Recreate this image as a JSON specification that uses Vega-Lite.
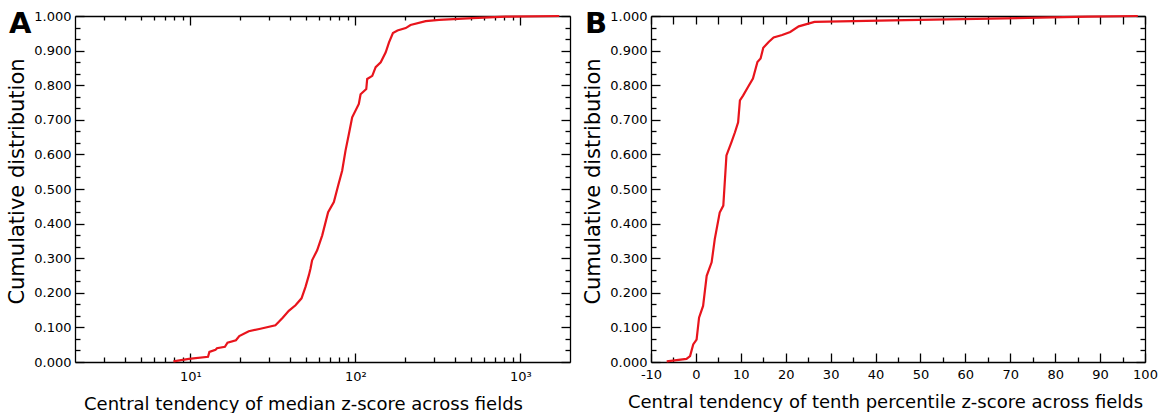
{
  "$schema": "https://vega.github.io/schema/vega-lite/v6.json",
  "padding": {"left": 6, "top": 10, "right": 12, "bottom": 0},
  "spacing": 11,
  "config": {
    "font": "DejaVu Sans",
    "view": {"stroke": null},
    "axis": {
      "labelFont": "DejaVu Sans", "labelFontSize": 13, "labelColor": "#000",
      "titleFont": "DejaVu Sans", "titleFontSize": 18, "titleFontWeight": "normal", "titleColor": "#000",
      "domainColor": "#000", "tickColor": "#000", "grid": false,
      "domainWidth": 1.3, "tickWidth": 1.3, "labelFlush": false, "labelOverlap": false
    },
    "title": {"font": "DejaVu Sans", "fontSize": 29, "fontWeight": "bold", "color": "#000", "anchor": "start", "frame": "group", "offset": 0}
  },
  "datasets": {
    "a": [
      {"x": 7.9, "y": 0.002}, {"x": 9.8, "y": 0.009}, {"x": 12.8, "y": 0.015}, {"x": 13.05, "y": 0.029},
      {"x": 14.2, "y": 0.035}, {"x": 14.5, "y": 0.040}, {"x": 16.2, "y": 0.044}, {"x": 16.8, "y": 0.056},
      {"x": 18.9, "y": 0.063}, {"x": 19.8, "y": 0.075}, {"x": 22.6, "y": 0.089}, {"x": 26.6, "y": 0.096},
      {"x": 32.8, "y": 0.106}, {"x": 34.4, "y": 0.116}, {"x": 36.3, "y": 0.128}, {"x": 39.5, "y": 0.148},
      {"x": 43.4, "y": 0.164}, {"x": 47.2, "y": 0.184}, {"x": 49.9, "y": 0.217}, {"x": 52.3, "y": 0.251},
      {"x": 53.5, "y": 0.27}, {"x": 54.7, "y": 0.294}, {"x": 58.7, "y": 0.323}, {"x": 63, "y": 0.366},
      {"x": 68.4, "y": 0.433}, {"x": 74.1, "y": 0.462}, {"x": 78.7, "y": 0.51}, {"x": 83.2, "y": 0.553},
      {"x": 87.2, "y": 0.611}, {"x": 91.4, "y": 0.659}, {"x": 95.7, "y": 0.707}, {"x": 105, "y": 0.746},
      {"x": 107.6, "y": 0.774}, {"x": 116.5, "y": 0.789}, {"x": 118, "y": 0.818}, {"x": 126.7, "y": 0.827},
      {"x": 132.8, "y": 0.852}, {"x": 142.5, "y": 0.866}, {"x": 152.8, "y": 0.895}, {"x": 160, "y": 0.924},
      {"x": 169, "y": 0.951}, {"x": 180, "y": 0.958}, {"x": 202, "y": 0.965}, {"x": 216, "y": 0.974},
      {"x": 267, "y": 0.985}, {"x": 322, "y": 0.989}, {"x": 513, "y": 0.994}, {"x": 818, "y": 0.998},
      {"x": 1722, "y": 1.0}
    ],
    "b": [
      {"x": -6.5, "y": 0.002}, {"x": -2.1, "y": 0.009}, {"x": -1.3, "y": 0.017}, {"x": -0.6, "y": 0.051},
      {"x": 0.15, "y": 0.065}, {"x": 0.7, "y": 0.128}, {"x": 1.6, "y": 0.162}, {"x": 2.4, "y": 0.249},
      {"x": 3.5, "y": 0.288}, {"x": 4.2, "y": 0.355}, {"x": 5.3, "y": 0.432}, {"x": 6.1, "y": 0.452},
      {"x": 6.8, "y": 0.597}, {"x": 7.9, "y": 0.635}, {"x": 8.7, "y": 0.664}, {"x": 9.4, "y": 0.693},
      {"x": 9.8, "y": 0.756}, {"x": 10.5, "y": 0.770}, {"x": 11.6, "y": 0.795}, {"x": 12.7, "y": 0.819},
      {"x": 13.7, "y": 0.867}, {"x": 14.4, "y": 0.877}, {"x": 15.0, "y": 0.908}, {"x": 16.2, "y": 0.925},
      {"x": 17.3, "y": 0.938}, {"x": 19.2, "y": 0.945}, {"x": 21.0, "y": 0.954}, {"x": 22.9, "y": 0.970},
      {"x": 26.4, "y": 0.983}, {"x": 46.6, "y": 0.988}, {"x": 68.8, "y": 0.993}, {"x": 87.3, "y": 0.998},
      {"x": 98.4, "y": 1.0}
    ]
  },
  "hconcat": [
    {
      "width": 495, "height": 346,
      "title": {"text": "A", "dx": -66, "dy": 33},
      "data": {"name": "a"},
      "resolve": {"axis": {"x": "independent", "y": "independent"}},
      "layer": [
        {
          "mark": {"type": "line", "color": "#e8141c", "strokeWidth": 2.2},
          "encoding": {
            "x": {"field": "x", "type": "quantitative", "scale": {"type": "log", "domain": [2, 2000]},
              "axis": {"orient": "bottom", "values": [10, 100, 1000], "labelExpr": "datum.value == 10 ? '10¹' : datum.value == 100 ? '10²' : '10³'", "tickSize": -9, "labelPadding": 17, "title": "Central tendency of median z-score across fields", "titlePadding": 12, "titleX": 228, "titleAlign": "center"}},
            "y": {"field": "y", "type": "quantitative", "scale": {"domain": [0, 1]},
              "axis": {"orient": "left", "values": [0, 0.1, 0.2, 0.3, 0.4, 0.5, 0.6, 0.7, 0.8, 0.9, 1.0], "format": ".3f", "tickSize": -9, "labelPadding": 13, "title": "Cumulative distribution", "titleFontSize": 21, "titlePadding": 6, "titleY": 165}},
            "order": {"field": "y", "type": "quantitative"}
          }
        },
        {
          "mark": {"type": "line", "opacity": 0},
          "encoding": {
            "x": {"field": "x", "type": "quantitative", "scale": {"type": "log", "domain": [2, 2000]},
              "axis": {"orient": "bottom", "values": [3, 4, 5, 6, 7, 8, 9, 20, 30, 40, 50, 60, 70, 80, 90, 200, 300, 400, 500, 600, 700, 800, 900], "tickSize": -5, "labels": false, "domain": false, "title": null}},
            "y": {"field": "y", "type": "quantitative", "scale": {"domain": [0, 1]},
              "axis": {"orient": "left", "values": [0.0333, 0.0667, 0.1333, 0.1667, 0.2333, 0.2667, 0.3333, 0.3667, 0.4333, 0.4667, 0.5333, 0.5667, 0.6333, 0.6667, 0.7333, 0.7667, 0.8333, 0.8667, 0.9333, 0.9667], "tickSize": -5, "labels": false, "domain": false, "title": null}},
            "order": {"field": "y", "type": "quantitative"}
          }
        },
        {
          "mark": {"type": "line", "opacity": 0},
          "encoding": {
            "x": {"field": "x", "type": "quantitative", "scale": {"type": "log", "domain": [2, 2000]},
              "axis": {"orient": "top", "values": [10, 100, 1000], "tickSize": -9, "labels": false, "title": null}},
            "y": {"field": "y", "type": "quantitative", "scale": {"domain": [0, 1]},
              "axis": {"orient": "right", "values": [0, 0.1, 0.2, 0.3, 0.4, 0.5, 0.6, 0.7, 0.8, 0.9, 1.0], "tickSize": -9, "labels": false, "title": null}},
            "order": {"field": "y", "type": "quantitative"}
          }
        },
        {
          "mark": {"type": "line", "opacity": 0},
          "encoding": {
            "x": {"field": "x", "type": "quantitative", "scale": {"type": "log", "domain": [2, 2000]},
              "axis": {"orient": "top", "values": [3, 4, 5, 6, 7, 8, 9, 20, 30, 40, 50, 60, 70, 80, 90, 200, 300, 400, 500, 600, 700, 800, 900], "tickSize": -4, "labels": false, "domain": false, "title": null}},
            "y": {"field": "y", "type": "quantitative", "scale": {"domain": [0, 1]},
              "axis": {"orient": "right", "values": [0.0333, 0.0667, 0.1333, 0.1667, 0.2333, 0.2667, 0.3333, 0.3667, 0.4333, 0.4667, 0.5333, 0.5667, 0.6333, 0.6667, 0.7333, 0.7667, 0.8333, 0.8667, 0.9333, 0.9667], "tickSize": -5, "labels": false, "domain": false, "title": null}},
            "order": {"field": "y", "type": "quantitative"}
          }
        }
      ]
    },
    {
      "width": 494, "height": 346,
      "title": {"text": "B", "dx": -66, "dy": 33},
      "data": {"name": "b"},
      "resolve": {"axis": {"x": "independent", "y": "independent"}},
      "layer": [
        {
          "mark": {"type": "line", "color": "#e8141c", "strokeWidth": 2.2},
          "encoding": {
            "x": {"field": "x", "type": "quantitative", "scale": {"domain": [-10, 100]},
              "axis": {"orient": "bottom", "values": [-10, 0, 10, 20, 30, 40, 50, 60, 70, 80, 90, 100], "labelExpr": "replace(datum.label, '−', '-')", "tickSize": -9, "labelPadding": 15, "title": "Central tendency of tenth percentile z-score across fields", "titlePadding": 12, "titleX": 234, "titleAlign": "center"}},
            "y": {"field": "y", "type": "quantitative", "scale": {"domain": [0, 1]},
              "axis": {"orient": "left", "values": [0, 0.1, 0.2, 0.3, 0.4, 0.5, 0.6, 0.7, 0.8, 0.9, 1.0], "format": ".3f", "tickSize": -9, "labelPadding": 13, "title": "Cumulative distribution", "titleFontSize": 21, "titlePadding": 6, "titleY": 165}},
            "order": {"field": "y", "type": "quantitative"}
          }
        },
        {
          "mark": {"type": "line", "opacity": 0},
          "encoding": {
            "x": {"field": "x", "type": "quantitative", "scale": {"domain": [-10, 100]},
              "axis": {"orient": "bottom", "values": [-5, 5, 15, 25, 35, 45, 55, 65, 75, 85, 95], "tickSize": -5, "labels": false, "domain": false, "title": null}},
            "y": {"field": "y", "type": "quantitative", "scale": {"domain": [0, 1]},
              "axis": {"orient": "left", "values": [0.0333, 0.0667, 0.1333, 0.1667, 0.2333, 0.2667, 0.3333, 0.3667, 0.4333, 0.4667, 0.5333, 0.5667, 0.6333, 0.6667, 0.7333, 0.7667, 0.8333, 0.8667, 0.9333, 0.9667], "tickSize": -5, "labels": false, "domain": false, "title": null}},
            "order": {"field": "y", "type": "quantitative"}
          }
        },
        {
          "mark": {"type": "line", "opacity": 0},
          "encoding": {
            "x": {"field": "x", "type": "quantitative", "scale": {"domain": [-10, 100]},
              "axis": {"orient": "top", "values": [-10, 0, 10, 20, 30, 40, 50, 60, 70, 80, 90, 100], "tickSize": -8, "labels": false, "title": null}},
            "y": {"field": "y", "type": "quantitative", "scale": {"domain": [0, 1]},
              "axis": {"orient": "right", "values": [0, 0.1, 0.2, 0.3, 0.4, 0.5, 0.6, 0.7, 0.8, 0.9, 1.0], "tickSize": -9, "labels": false, "title": null}},
            "order": {"field": "y", "type": "quantitative"}
          }
        },
        {
          "mark": {"type": "line", "opacity": 0},
          "encoding": {
            "x": {"field": "x", "type": "quantitative", "scale": {"domain": [-10, 100]},
              "axis": {"orient": "top", "values": [-5, 5, 15, 25, 35, 45, 55, 65, 75, 85, 95], "tickSize": -8, "labels": false, "domain": false, "title": null}},
            "y": {"field": "y", "type": "quantitative", "scale": {"domain": [0, 1]},
              "axis": {"orient": "right", "values": [0.0333, 0.0667, 0.1333, 0.1667, 0.2333, 0.2667, 0.3333, 0.3667, 0.4333, 0.4667, 0.5333, 0.5667, 0.6333, 0.6667, 0.7333, 0.7667, 0.8333, 0.8667, 0.9333, 0.9667], "tickSize": -5, "labels": false, "domain": false, "title": null}},
            "order": {"field": "y", "type": "quantitative"}
          }
        }
      ]
    }
  ]
}
